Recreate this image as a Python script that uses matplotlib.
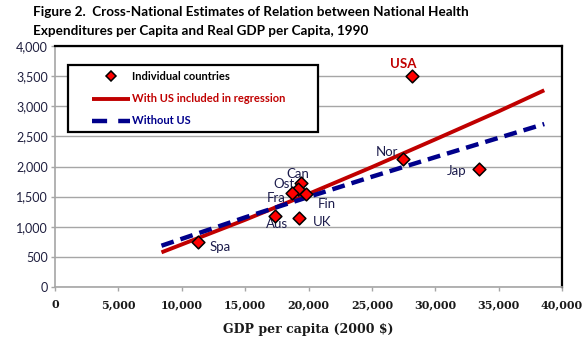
import matplotlib
matplotlib.use("Agg")
import matplotlib.pyplot as plt
from matplotlib.patches import Rectangle
from matplotlib.lines import Line2D

# Country observations: real GDP per capita (2000 $) and health spending per capita
countries = ["USA", "Nor", "Jap", "Can", "Ost", "Fra", "Fin", "Aus", "UK", "Spa"]
gdp = [28190, 27480, 33480, 19410, 19150, 18670, 19800, 17380, 19280, 11260]
health = [3500, 2120, 1955, 1730, 1630, 1565, 1540, 1185, 1140, 745]

# Fitted regression curves
fit_gdp = [8400, 15000, 20000, 25000, 30000, 35000, 38600]
fit_with_us = [575, 1115, 1545, 1990, 2450, 2915, 3265]
fit_without_us = [685, 1155, 1495, 1830, 2155, 2475, 2705]

x_ticks = [0, 5000, 10000, 15000, 20000, 25000, 30000, 35000, 40000]
y_ticks = [0, 500, 1000, 1500, 2000, 2500, 3000, 3500, 4000]

legend_labels = ["Individual countries", "With US included in regression", "Without US"]

# label offsets in pixels (dx, dy)
offsets = {
    "USA": (-9, 12), "Nor": (-16, 7), "Jap": (-23, -2), "Can": (-3, 9),
    "Ost": (-14, 5), "Fra": (-15, -5), "Fin": (21, -10), "Aus": (2, -8),
    "UK": (23, -4), "Spa": (22, -5),
}

RED = "#c00000"
BLUE = "#00008b"
NAVY = "#1c1c4c"
GRID = "#a6a6a6"
FONT = "Lato"

fig = plt.figure(figsize=(5.85, 3.46), dpi=100)
W, H = 585, 346
L, R, T, B = 55, 562, 46, 287
ax = fig.add_axes([L / W, 1 - B / H, (R - L) / W, (B - T) / H])

ax.plot(fit_gdp, fit_with_us, color=RED, lw=2.8, solid_capstyle="butt", zorder=3)
ax.plot(fit_gdp, fit_without_us, color=BLUE, lw=3.2, dashes=(2.9, 1.6),
        dash_capstyle="butt", zorder=3)
ax.scatter(gdp, health, marker="D", s=42, facecolor="#ff0000",
           edgecolor="black", linewidths=1.1, zorder=4)

for name, xv, yv in zip(countries, gdp, health):
    dx, dy = offsets[name]
    bold = name == "USA"
    ax.annotate(name, (xv, yv), xytext=(dx, dy), textcoords="offset pixels",
                ha="center", va="center", fontsize=9.5,
                fontweight="bold" if bold else "normal",
                color=RED if bold else NAVY, family=FONT)

ax.set_xlim(0, 40000)
ax.set_ylim(0, 4000)
ax.set_xticks(x_ticks)
ax.set_yticks(y_ticks)
ax.set_xticklabels([f"{v:,}" for v in x_ticks], family="DejaVu Serif",
                   fontweight="bold", fontsize=8, color="#1a1a1a")
ax.set_yticklabels([f"{v:,}" for v in y_ticks], family=FONT,
                   fontsize=9, color="#1f1f3f")
ax.yaxis.grid(True, color=GRID, lw=1.0)
ax.set_axisbelow(True)
ax.tick_params(axis="both", direction="out", length=3, color=GRID, width=1)
ax.tick_params(axis="x", pad=6)
ax.tick_params(axis="y", pad=2)

for side in ("top", "right"):
    ax.spines[side].set_color("black")
    ax.spines[side].set_linewidth(1.6)
for side in ("left", "bottom"):
    ax.spines[side].set_color(GRID)
    ax.spines[side].set_linewidth(1.2)

ax.set_xlabel("GDP per capita (2000 $)", family="DejaVu Serif",
              fontweight="bold", fontsize=9, labelpad=9, color="#1a1a1a")


# Legend box, laid out in pixel positions converted to axes fractions
def fx(px):
    return (px - L) / (R - L)


def fy(py):
    return (B - py) / (B - T)


tr = ax.transAxes
ax.add_patch(Rectangle((fx(68), fy(132)), fx(318) - fx(68), fy(65) - fy(132),
                       transform=tr, facecolor="white", edgecolor="black",
                       lw=1.6, zorder=5, clip_on=False))
rows = [76, 99, 121]
ax.add_line(Line2D([fx(111)], [fy(rows[0])], transform=tr, ls="none", marker="D",
                   markersize=5.5, markerfacecolor="#ff0000",
                   markeredgecolor="black", markeredgewidth=1.1, zorder=6))
ax.add_line(Line2D([fx(92), fx(130)], [fy(rows[1])] * 2, transform=tr,
                   color=RED, lw=2.8, solid_capstyle="butt", zorder=6))
ax.add_line(Line2D([fx(92), fx(130)], [fy(rows[2])] * 2, transform=tr,
                   color=BLUE, lw=3.2, dashes=(3.4, 2.5), dash_capstyle="butt", zorder=6))
for row, text, col in zip(rows, legend_labels, ["black", RED, BLUE]):
    ax.text(fx(132), fy(row), text, transform=tr, ha="left", va="center",
            fontsize=8, fontweight="bold", color=col, family=FONT, zorder=7)

fig.text(33 / W, 1 - 12 / H, "Figure 2.  Cross-National Estimates of Relation between National Health",
         ha="left", va="center", fontsize=9.7, fontweight="bold", family=FONT)
fig.text(33 / W, 1 - 31 / H, "Expenditures per Capita and Real GDP per Capita, 1990",
         ha="left", va="center", fontsize=9.7, fontweight="bold", family=FONT)

fig.savefig("out.png", dpi=100)
